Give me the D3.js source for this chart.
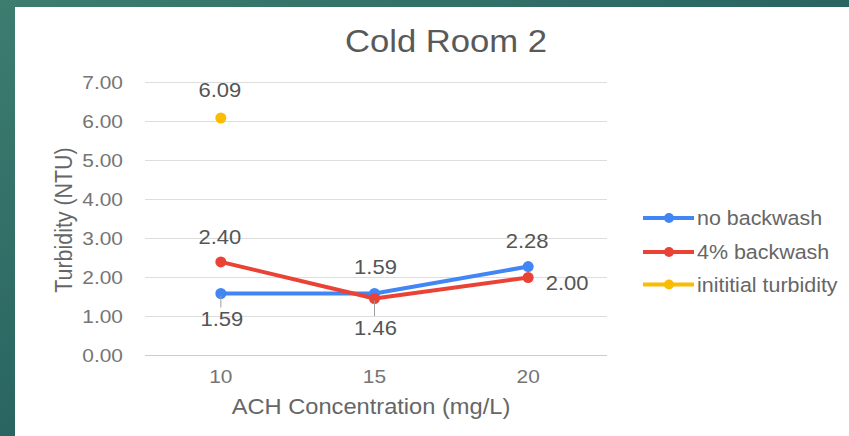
<!DOCTYPE html>
<html>
<head>
<meta charset="utf-8">
<script src="https://cdn.jsdelivr.net/npm/d3@7"></script>
<style>
  html, body { margin: 0; padding: 0; background: #fff; }
  svg { display: block; font-family: Arial, "Liberation Sans", sans-serif; }
</style>
</head>
<body>
<svg id="chart" width="849" height="436"></svg>
<script>
// ACH dose (mg/L) on the x axis
const categories = ["10", "15", "20"];
// Turbidity after filtration (NTU)
const noBackwash = [1.59, 1.59, 2.28];
const backwash4 = [2.40, 1.46, 2.00];
// Raw water turbidity, measured once at the first dose
const initialTurbidity = [6.09, null, null];
const yTicks = [0, 1, 2, 3, 4, 5, 6, 7];
const seriesNames = ["no backwash", "4% backwash", "inititial turbidity"];
const seriesColors = ["#4285f4", "#ea4335", "#fbbc04"];

const svg = d3.select("#chart");
const W = 849, H = 436;
const STRETCH = 1.1; // text is drawn slightly wide

// slide background framing the chart
const defs = svg.append("defs");
const grad = defs.append("linearGradient").attr("id", "bg").attr("x1", 0).attr("y1", 0).attr("x2", 1).attr("y2", 1);
grad.append("stop").attr("offset", "0%").attr("stop-color", "#3d7d70");
grad.append("stop").attr("offset", "50%").attr("stop-color", "#2a6561");
grad.append("stop").attr("offset", "100%").attr("stop-color", "#1c4753");
svg.append("rect").attr("width", W).attr("height", H).attr("fill", "url(#bg)");
svg.append("rect").attr("x", 15).attr("y", 7).attr("width", W - 15).attr("height", H - 7).attr("fill", "#fff");

const plot = { left: 145, right: 607, top: 82.5, bottom: 355.5 };

const x = d3.scaleBand().domain(categories).range([144, 605]);
const y = d3.scaleLinear().domain([0, 7]).range([plot.bottom, plot.top]);
const cx = c => x(c) + x.bandwidth() / 2;

function label(g, px, py, str, size, fill, anchor) {
  return g.append("text")
    .attr("transform", `translate(${px},${py}) scale(${STRETCH},1)`)
    .attr("text-anchor", anchor || "middle")
    .attr("font-size", size).attr("fill", fill)
    .text(str);
}

// gridlines
svg.append("g").selectAll("line").data(yTicks).join("line")
  .attr("x1", plot.left).attr("x2", plot.right)
  .attr("y1", d => y(d)).attr("y2", d => y(d))
  .attr("stroke", d => d === 0 ? "#cccccc" : "#dddddd").attr("stroke-width", 1);

// y axis tick labels
const yAxis = svg.append("g");
yTicks.forEach(d => label(yAxis, 123, y(d) + 6, d.toFixed(2), 19, "#757575", "end"));

// x axis tick labels
const xAxis = svg.append("g");
categories.forEach(c => label(xAxis, cx(c), 383, c, 19, "#757575"));

// titles
label(svg, 446, 52, "Cold Room 2", 31.5, "#595959");
label(svg, 371, 414, "ACH Concentration (mg/L)", 21.5, "#666");
svg.append("text").attr("transform", "translate(72,220) rotate(-90) scale(1,1.1)")
  .attr("text-anchor", "middle").attr("font-size", 21.4).attr("fill", "#666")
  .text("Turbidity (NTU)");

const series = [noBackwash, backwash4, initialTurbidity];
const line = d3.line()
  .defined(d => d.v != null)
  .x(d => cx(d.c)).y(d => y(d.v));

series.forEach((vals, i) => {
  const pts = vals.map((v, j) => ({ c: categories[j], v }));
  svg.append("path").datum(pts).attr("d", line)
    .attr("fill", "none").attr("stroke", seriesColors[i]).attr("stroke-width", 4)
    .attr("stroke-linejoin", "round");
  svg.append("g").selectAll("circle").data(pts.filter(p => p.v != null)).join("circle")
    .attr("cx", p => cx(p.c)).attr("cy", p => y(p.v)).attr("r", 5.5)
    .attr("fill", seriesColors[i]);
});

// value labels: [series index, category index, dx, dy (to text middle), leader]
const labelSpecs = [
  [2, 0, -1, -27.5, false],
  [1, 0, -1, -25, false],
  [0, 0, 1, 26, true],
  [0, 1, 1, -26, false],
  [1, 1, 1, 29.5, true],
  [0, 2, -1, -25.5, false],
  [1, 2, 39, 5.5, false]
];
const lbl = svg.append("g");
labelSpecs.forEach(([s, c, dx, dy, leader]) => {
  const v = series[s][c];
  const px = cx(categories[c]), py = y(v);
  if (leader) {
    lbl.append("line").attr("x1", px).attr("x2", px)
      .attr("y1", py + 2).attr("y2", py + dy - 12)
      .attr("stroke", "#9e9e9e").attr("stroke-width", 1);
  }
  label(lbl, px + dx, py + dy + 7, v.toFixed(2), 20, "#555");
});

// legend
const legend = svg.append("g");
const legendY = [218, 252, 284.5];
seriesNames.forEach((name, i) => {
  const g = legend.append("g").attr("transform", `translate(643,${legendY[i]})`);
  g.append("line").attr("x1", 0).attr("x2", 51).attr("stroke", seriesColors[i]).attr("stroke-width", 4);
  g.append("circle").attr("cx", 26).attr("r", 5).attr("fill", seriesColors[i]);
  label(g, 54, 7, name, 19.5, "#666", "start");
});
</script>
</body>
</html>
